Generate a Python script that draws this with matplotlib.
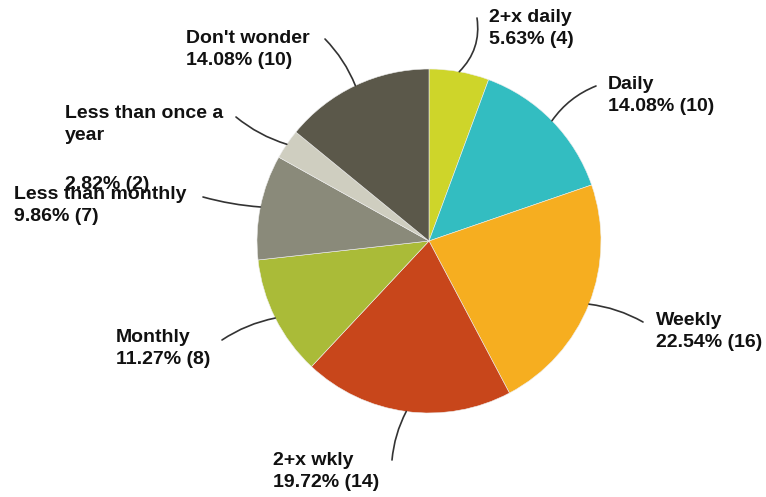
import numpy as np
import matplotlib
matplotlib.use("Agg")
import matplotlib.pyplot as plt

# survey answers, clockwise from 12 o'clock
labels = ["2+x daily", "Daily", "Weekly", "2+x wkly", "Monthly",
          "Less than monthly", "Less than once a\nyear", "Don't wonder"]
counts = [4, 10, 16, 14, 8, 7, 2, 10]
colors = ["#CED52A", "#33BDC1", "#F6AE20", "#C8461B", "#AABB38",
          "#8A8A7A", "#CFCEC0", "#5B584A"]

W, H = 766, 497
cx, cy, R = 429, 241, 172

# label text top-left corner and where the leader line ends (pixel coords, y down)
text_pos = [(489, 9), (608, 76), (656, 312), (273, 452), (116, 329),
            (14, 186), (65, 105), (186, 30)]
# the wrapped label has its value line pushed further down
value_drop = {6: 71}
line_end = [(477, 18), (596, 86), (643, 322), (392, 460), (222, 340),
            (203, 197), (236, 117), (325, 39)]
line_rad = [-0.25, 0.15, 0.1, -0.1, -0.1, 0.05, 0.1, -0.1]

fig = plt.figure(figsize=(W / 100, H / 100), dpi=100)
ax = fig.add_axes([0, 0, 1, 1])

wedges, _ = ax.pie(counts, colors=colors, startangle=90, counterclock=False,
                   center=(cx, H - cy), radius=R, frame=True,
                   wedgeprops=dict(linewidth=0.4, edgecolor="#eeeeee"))
ax.set_xlim(0, W)
ax.set_ylim(0, H)
ax.set_aspect("equal")
ax.axis("off")

font = dict(ha="left", va="top", fontsize=14, fontweight="bold",
            family="Liberation Sans", color="#111111", linespacing=1.35)

total = sum(counts)
for i, (w, lab, n, tp, le, rad) in enumerate(zip(wedges, labels, counts,
                                                 text_pos, line_end, line_rad)):
    mid = np.deg2rad((w.theta1 + w.theta2) / 2)
    start = (cx + R * np.cos(mid), H - cy + R * np.sin(mid))
    ax.annotate("", xy=start, xytext=(le[0], H - le[1]),
                arrowprops=dict(arrowstyle="-", color="#333333", lw=1.2,
                                connectionstyle="arc3,rad=%s" % rad,
                                shrinkA=0, shrinkB=0))
    value = "%.2f%% (%d)" % (100.0 * n / total, n)
    if i in value_drop:
        ax.text(tp[0], H - tp[1], lab, **font)
        ax.text(tp[0], H - tp[1] - value_drop[i], value, **font)
    else:
        ax.text(tp[0], H - tp[1], lab + "\n" + value, **font)

fig.savefig("out.png", dpi=100)
